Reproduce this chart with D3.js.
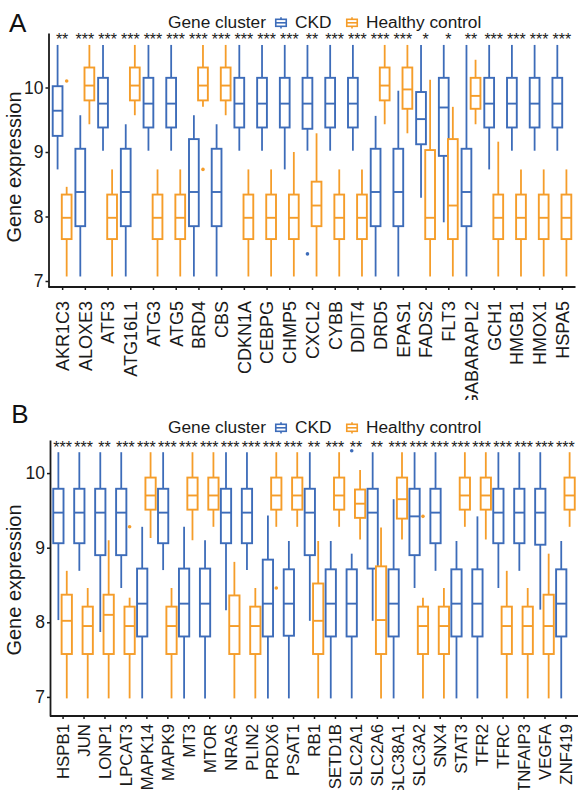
<!DOCTYPE html>
<html><head><meta charset="utf-8">
<script src="https://cdn.jsdelivr.net/npm/d3@7"></script>
<style>body{margin:0;background:#fff}</style>
</head><body>
<script>
// ---------------- DATA ----------------
const groups = ["CKD", "Healthy control"];
const groupColors = ["#3d6cb9", "#f59d2a"];
const yTicks = [7, 8, 9, 10];

// Panel A
const genesA = ["AKR1C3","ALOXE3","ATF3","ATG16L1","ATG3","ATG5","BRD4","CBS","CDKN1A","CEBPG","CHMP5","CXCL2","CYBB","DDIT4","DRD5","EPAS1","FADS2","FLT3","GABARAPL2","GCH1","HMGB1","HMOX1","HSPA5"];
// [lower whisker, Q1, median, Q3, upper whisker]
const ckdA = [
  [8.73,9.25,9.64,10.02,10.66],[7.07,7.85,8.38,9.05,9.57],[9.02,9.38,9.75,10.15,10.66],[7.07,7.85,8.38,9.05,9.43],
  [9.02,9.38,9.75,10.15,10.66],[9.02,9.38,9.75,10.15,10.66],[7.07,7.85,8.38,9.20,9.57],[7.07,7.85,8.38,9.05,9.43],
  [9.02,9.38,9.75,10.15,10.66],[9.02,9.38,9.75,10.15,10.66],[8.73,9.38,9.75,10.15,10.66],[9.02,9.36,9.75,10.15,10.66],
  [9.02,9.38,9.75,10.15,10.66],[9.02,9.38,9.75,10.15,10.66],[7.07,7.85,8.38,9.05,9.56],[7.07,7.85,8.38,9.05,9.95],
  [8.29,9.12,9.51,9.93,10.66],[7.91,8.94,9.69,10.15,10.66],[7.07,7.85,8.38,9.05,10.66],[8.73,9.38,9.75,10.15,10.66],
  [9.02,9.38,9.75,10.15,10.66],[9.02,9.38,9.75,10.15,10.66],[9.02,9.38,9.75,10.15,10.66]
];
const hcA = [
  [7.07,7.65,7.98,8.34,8.46],[9.43,9.80,10.03,10.31,10.66],[7.07,7.65,7.98,8.34,8.73],[9.57,9.80,10.03,10.31,10.66],
  [7.07,7.65,7.98,8.34,8.73],[7.07,7.65,7.98,8.34,8.73],[9.70,9.80,10.03,10.31,10.66],[9.57,9.80,10.03,10.31,10.66],
  [7.07,7.65,7.98,8.34,8.73],[7.07,7.65,7.98,8.34,8.73],[7.07,7.65,7.98,8.34,9.00],[7.07,7.85,8.17,8.54,9.29],
  [7.07,7.65,7.98,8.34,8.73],[7.07,7.65,7.98,8.34,8.73],[9.43,9.80,10.03,10.31,10.66],[9.29,9.67,9.97,10.31,10.66],
  [7.07,7.65,7.98,9.03,10.12],[7.07,7.65,8.17,9.20,9.70],[9.43,9.67,9.87,10.15,10.43],[7.07,7.65,7.98,8.34,9.16],
  [7.07,7.65,7.98,8.34,8.73],[7.07,7.65,7.98,8.34,8.73],[7.07,7.65,7.98,8.34,8.73]
];
const sigA = ["**","***","***","***","***","***","***","***","***","***","***","**","***","***","***","***","*","*","**","***","***","***","***"];
const outGenesA = ["AKR1C3","BRD4","CXCL2"];
const outGroupsA = ["Healthy control","Healthy control","CKD"];
const outValuesA = [10.10, 8.73, 7.42];

// Panel B
const genesB = ["HSPB1","JUN","LONP1","LPCAT3","MAPK14","MAPK9","MT3","MTOR","NRAS","PLIN2","PRDX6","PSAT1","RB1","SETD1B","SLC2A1","SLC2A6","SLC38A1","SLC3A2","SNX4","STAT3","TFR2","TFRC","TNFAIP3","VEGFA","ZNF419"];
const ckdB = [
  [8.03,9.06,9.47,9.79,10.28],[8.69,9.06,9.47,9.79,10.28],[7.87,8.90,9.47,9.79,10.28],[8.46,8.90,9.47,9.79,10.28],
  [6.98,7.81,8.25,8.72,9.28],[8.70,9.06,9.47,9.79,10.28],[6.98,7.81,8.25,8.72,9.28],[6.98,7.81,8.25,8.72,9.10],
  [8.16,9.06,9.47,9.79,10.28],[8.70,9.06,9.47,9.79,10.28],[6.98,7.81,8.25,8.84,9.43],[6.98,7.82,8.25,8.71,9.09],
  [8.02,8.90,9.47,9.79,10.28],[6.98,7.81,8.25,8.71,9.09],[6.98,7.81,8.25,8.71,8.92],[8.02,8.72,9.47,9.79,10.28],
  [6.98,7.81,8.25,8.71,9.65],[8.46,8.90,9.42,9.79,10.28],[8.69,9.06,9.47,9.79,10.28],[6.98,7.81,8.25,8.71,9.09],
  [6.98,7.81,8.25,8.71,9.42],[8.46,9.06,9.47,9.79,10.28],[8.69,9.06,9.47,9.79,10.28],[8.17,9.04,9.47,9.79,10.28],
  [6.98,7.81,8.25,8.71,9.09]
];
const hcB = [
  [6.98,7.575,8.02,8.37,8.69],[6.98,7.575,7.95,8.21,8.46],[6.98,7.575,8.10,8.37,9.10],[6.98,7.575,7.95,8.21,8.33],
  [9.13,9.51,9.70,9.94,10.28],[6.98,7.575,7.95,8.21,8.46],[9.10,9.51,9.70,9.94,10.28],[9.28,9.51,9.70,9.94,10.28],
  [6.98,7.575,7.95,8.36,8.81],[6.98,7.575,7.95,8.21,8.46],[9.28,9.51,9.70,9.94,10.28],[9.28,9.51,9.70,9.94,10.28],
  [6.98,7.575,8.02,8.52,9.09],[9.28,9.51,9.70,9.94,10.28],[9.11,9.40,9.59,9.78,10.04],[6.98,7.575,8.03,8.75,9.27],
  [9.11,9.39,9.65,9.94,10.28],[6.98,7.575,7.95,8.21,8.33],[6.98,7.575,7.95,8.21,8.46],[9.28,9.51,9.70,9.94,10.28],
  [9.11,9.51,9.70,9.94,10.28],[6.98,7.575,7.95,8.21,8.69],[6.98,7.575,7.95,8.21,8.46],[6.98,7.575,7.95,8.37,8.92],
  [9.28,9.51,9.70,9.94,10.28]
];
const sigB = ["***","***","**","***","***","***","***","***","***","***","***","***","**","***","**","**","***","***","***","***","***","***","***","***","***"];
const outGenesB = ["LPCAT3","PRDX6","SLC2A1","SLC3A2"];
const outGroupsB = ["Healthy control","Healthy control","CKD","Healthy control"];
const outValuesB = [9.28, 8.46, 10.30, 9.42];

// ---------------- DRAWING ----------------
const W = 580, H = 790;
const FONT = "'Liberation Sans', Arial, Helvetica, sans-serif";
const svg = d3.select("body").append("svg").attr("width", W).attr("height", H)
  .style("font-family", FONT);

const color = d3.scaleOrdinal().domain(groups).range(groupColors);

function drawPanel(cfg) {
  const clipId = "clip" + cfg.label;
  svg.append("clipPath").attr("id", clipId).append("rect")
    .attr("x", 0).attr("y", cfg.clip[0]).attr("width", W).attr("height", cfg.clip[1] - cfg.clip[0]);
  const g = svg.append("g").attr("clip-path", `url(#${clipId})`);

  const x = d3.scalePoint().domain(cfg.genes).range([cfg.left, cfg.right]).padding(0.6);
  const step = x.step();
  const y0 = d3.scaleLinear().domain([7, 10]).range(cfg.yRange);
  const y = d3.scaleLinear().domain([y0.invert(cfg.bottom), y0.invert(cfg.top)]).range([cfg.bottom, cfg.top]);
  const dodge = d3.scaleBand().domain(groups).range([-0.4 * step, 0.4 * step]).paddingInner(0);
  const offset = gr => dodge(gr) + dodge.bandwidth() / 2;
  const bw = cfg.boxFrac * step;

  // boxes
  const rows = [];
  cfg.genes.forEach((gene, i) => {
    rows.push({gene, group: groups[0], s: cfg.ckd[i]});
    rows.push({gene, group: groups[1], s: cfg.hc[i]});
  });
  const bx = g.append("g");
  rows.forEach(r => {
    const cx = x(r.gene) + offset(r.group);
    const col = color(r.group);
    const gg = bx.append("g");
    gg.append("line").attr("x1", cx).attr("x2", cx).attr("y1", y(r.s[3])).attr("y2", y(r.s[4]))
      .attr("stroke", col).attr("stroke-width", 1.8);
    gg.append("line").attr("x1", cx).attr("x2", cx).attr("y1", y(r.s[1])).attr("y2", y(r.s[0]))
      .attr("stroke", col).attr("stroke-width", 1.8);
    gg.append("rect").attr("x", cx - bw / 2).attr("width", bw)
      .attr("y", y(r.s[3])).attr("height", y(r.s[1]) - y(r.s[3]))
      .attr("fill", "white").attr("stroke", col).attr("stroke-width", 1.9);
    gg.append("line").attr("x1", cx - bw / 2).attr("x2", cx + bw / 2).attr("y1", y(r.s[2])).attr("y2", y(r.s[2]))
      .attr("stroke", col).attr("stroke-width", 1.9);
  });
  // outliers
  cfg.outGenes.forEach((gene, i) => {
    g.append("circle").attr("cx", x(gene) + offset(cfg.outGroups[i])).attr("cy", y(cfg.outValues[i]))
      .attr("r", 1.8).attr("fill", color(cfg.outGroups[i]));
  });

  // axes
  const ax = g.append("g").attr("transform", `translate(${cfg.left},0)`)
    .call(d3.axisLeft(y).tickValues(yTicks).tickSize(3).tickSizeOuter(0).tickFormat(d3.format("d")));
  ax.select(".domain").attr("stroke", "#1a1a1a").attr("stroke-width", 1.8);
  ax.selectAll(".tick line").attr("stroke", "#1a1a1a").attr("stroke-width", 1.5);
  ax.selectAll(".tick text").attr("font-size", cfg.yTickSize).attr("fill", "#1a1a1a")
    .attr("font-family", FONT).attr("x", -5);

  const axb = g.append("g").attr("transform", `translate(0,${cfg.bottom})`)
    .call(d3.axisBottom(x).tickSize(3).tickSizeOuter(0));
  axb.select(".domain").attr("stroke", "#1a1a1a").attr("stroke-width", 1.8)
    .attr("d", `M${cfg.left},0H${cfg.right}`);
  axb.selectAll(".tick line").attr("stroke", "#1a1a1a").attr("stroke-width", 1.5);
  axb.selectAll(".tick text").attr("font-size", cfg.xTickSize).attr("fill", "#1a1a1a")
    .attr("font-family", FONT)
    .attr("transform", "rotate(-90)").attr("x", -(cfg.xLabelY - cfg.bottom)).attr("y", 0)
    .attr("dy", "0.35em").style("text-anchor", "end");

  // significance stars
  g.append("g").selectAll("text").data(cfg.genes).join("text")
    .attr("x", d => x(d)).attr("y", cfg.starsY).attr("text-anchor", "middle")
    .attr("font-size", 16).attr("fill", "#1a1a1a").text((d, i) => cfg.sig[i]);

  // y title
  g.append("text").attr("transform", `translate(${cfg.titleX},${cfg.titleY}) rotate(-90)`)
    .attr("text-anchor", "middle").attr("font-size", cfg.titleSize).attr("fill", "#1a1a1a").text("Gene expression");

  // panel label
  g.append("text").attr("x", cfg.labelX).attr("y", cfg.labelY).attr("font-size", 26).attr("fill", "#111")
    .text(cfg.label);

  // legend
  const lg = g.append("g");
  lg.append("text").attr("x", 168).attr("y", cfg.legendY).attr("font-size", 17.3).attr("fill", "#1a1a1a").text("Gene cluster");
  const keyX = [281, 352], textX = [295, 366];
  groups.forEach((gr, i) => {
    const cx = keyX[i], cy = cfg.legendY - 5.5, k = 14, col = color(gr);
    lg.append("line").attr("x1", cx).attr("x2", cx).attr("y1", cy - 0.4 * k).attr("y2", cy + 0.4 * k)
      .attr("stroke", col).attr("stroke-width", 1.6);
    lg.append("rect").attr("x", cx - 0.375 * k).attr("width", 0.75 * k).attr("y", cy - 0.25 * k).attr("height", 0.5 * k)
      .attr("fill", "white").attr("stroke", col).attr("stroke-width", 1.6);
    lg.append("line").attr("x1", cx - 0.375 * k).attr("x2", cx + 0.375 * k).attr("y1", cy).attr("y2", cy)
      .attr("stroke", col).attr("stroke-width", 1.6);
    lg.append("text").attr("x", textX[i]).attr("y", cfg.legendY).attr("font-size", 17.3).attr("fill", "#1a1a1a").text(gr);
  });
}

drawPanel({
  label: "A", genes: genesA, ckd: ckdA, hc: hcA, sig: sigA,
  outGenes: outGenesA, outGroups: outGroupsA, outValues: outValuesA,
  left: 48.5, right: 575.5, top: 33, bottom: 287, yRange: [281, 87.5],
  boxFrac: 0.43, clip: [0, 400], xLabelY: 301, starsY: 44.5, legendY: 28.3,
  labelX: 9, labelY: 31.7, titleX: 21, titleY: 167, titleSize: 20,
  xTickSize: 18, yTickSize: 17.5
});
drawPanel({
  label: "B", genes: genesB, ckd: ckdB, hc: hcB, sig: sigB,
  outGenes: outGenesB, outGroups: outGroupsB, outValues: outValuesB,
  left: 50, right: 578, top: 440, bottom: 716, yRange: [696.9, 473.1],
  boxFrac: 0.49, clip: [400, 790], xLabelY: 724, starsY: 453, legendY: 433.3,
  labelX: 11.3, labelY: 423, titleX: 21, titleY: 580, titleSize: 20,
  xTickSize: 16.8, yTickSize: 17.5
});
</script>
</body></html>
